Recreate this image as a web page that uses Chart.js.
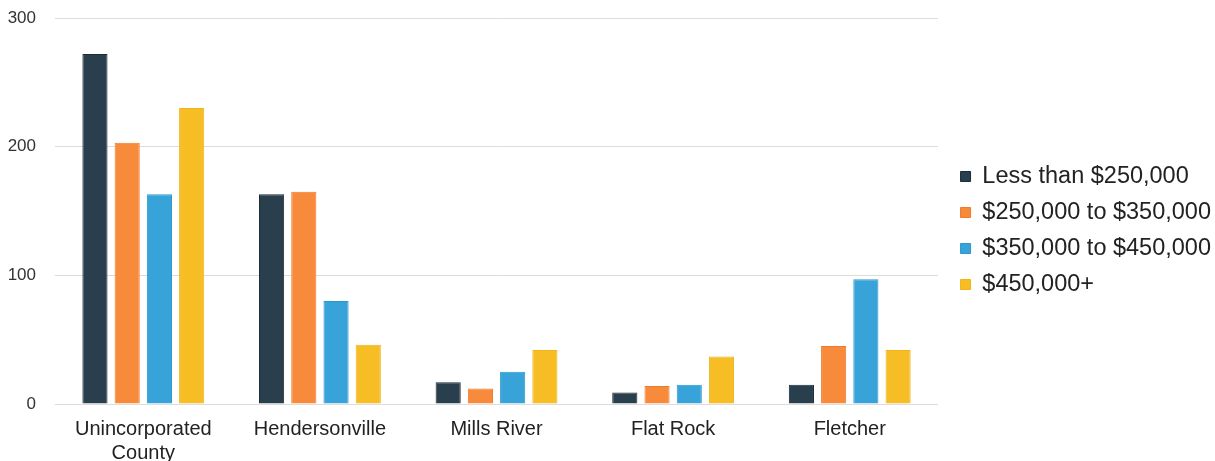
<!DOCTYPE html>
<html lang="en">
  <head>
    <meta charset="UTF-8" />
    <title>Home Sales by Price Range</title>
    <script src="https://cdn.jsdelivr.net/npm/chart.js"></script>
    <style>
      html, body {
        margin: 0;
        padding: 0;
        background: #ffffff;
      }
      .chart-wrap {
        position: relative;
        width: 1215px;
        height: 461px;
      }
    </style>
  </head>
  <body>
    <div class="chart-wrap">
      <canvas id="salesChart"></canvas>
    </div>

    <script>
      // Areas and sales counts per price band
      const areas = [["Unincorporated", "County"], "Hendersonville", "Mills River", "Flat Rock", "Fletcher"];
      const under250 = [272, 163, 17, 9, 15];
      const from250to350 = [203, 165, 12, 14, 45];
      const from350to450 = [163, 80, 25, 15, 97];
      const over450 = [230, 46, 42, 37, 42];
      const yTicks = [0, 100, 200, 300];

      const fontFamily = "'Liberation Sans', Arial, sans-serif";

      // push the legend a little further from the plot
      const legendGap = {
        id: "legendGap",
        afterLayout(chart) {
          chart.legend.left += 10;
          chart.legend.right += 10;
        },
      };

      new Chart(document.getElementById("salesChart"), {
        type: "bar",
        data: {
          labels: areas,
          datasets: [
            { label: "Less than $250,000", data: under250, backgroundColor: "#2a3f4e", borderColor: "#1c2c38", borderWidth: 1 },
            { label: "$250,000 to $350,000", data: from250to350, backgroundColor: "#f88a3c", borderColor: "#f07a2a", borderWidth: 1 },
            { label: "$350,000 to $450,000", data: from350to450, backgroundColor: "#37a3d9", borderColor: "#2a98d0", borderWidth: 1 },
            { label: "$450,000+", data: over450, backgroundColor: "#f6bd25", borderColor: "#f2b21a", borderWidth: 1 },
          ],
        },
        options: {
          responsive: true,
          maintainAspectRatio: false,
          animation: false,
          layout: { padding: { top: 0, left: 0, right: 4, bottom: 0 } },
          datasets: {
            bar: { categoryPercentage: 0.73, barPercentage: 0.78 },
          },
          plugins: {
            legend: {
              position: "right",
              labels: {
                boxWidth: 10,
                boxHeight: 10,
                padding: 12.5,
                color: "#222",
                font: { family: fontFamily, size: 23.5 },
              },
            },
            tooltip: { enabled: false },
          },
          scales: {
            x: {
              grid: { display: false },
              border: { display: false },
              ticks: {
                color: "#222",
                padding: 5,
                maxRotation: 0,
                font: { family: fontFamily, size: 20, lineHeight: 1.2 },
              },
              afterFit: (axis) => {
                axis.height = 57;
              },
            },
            y: {
              min: 0,
              max: 300,
              afterBuildTicks: (axis) => {
                axis.ticks = yTicks.map((v) => ({ value: v }));
              },
              afterFit: (axis) => {
                // fixed gutter for the value labels
                axis.width = 55;
                axis.paddingTop = 18;
                axis.paddingBottom = 9;
              },
              grid: { color: "#dcdcdc", drawTicks: false },
              border: { display: false },
              ticks: {
                color: "#333",
                padding: 19,
                font: { family: fontFamily, size: 17 },
              },
            },
          },
        },
        plugins: [legendGap],
      });
    </script>
  </body>
</html>
